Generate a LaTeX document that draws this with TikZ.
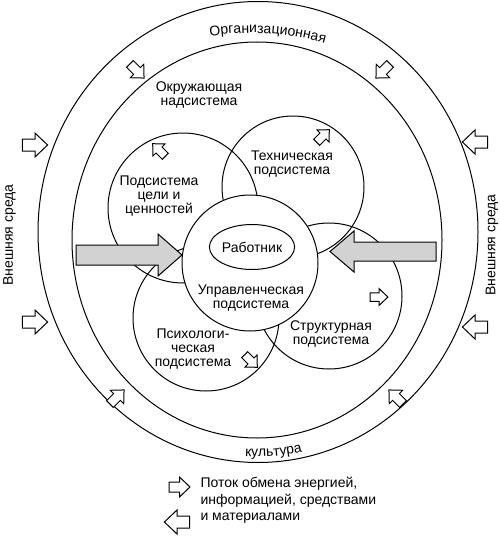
\documentclass[tikz,border=0pt]{standalone}
\usepackage{fontspec}
\setmainfont{Liberation Sans}
\usetikzlibrary{decorations.text,shapes.geometric}
\newcommand\lblfont{\fontsize{14}{14.2}\selectfont}
\newcommand\legfont{\fontsize{14}{16.5}\selectfont}
\begin{document}
\begin{tikzpicture}[x=1pt,y=-1pt,line width=1pt,
  lbl/.style={font=\lblfont,align=center,inner sep=0pt},
  ring/.style={draw,ellipse,inner sep=0pt,line width=1pt},
  sub/.style={draw,circle,inner sep=0pt,line width=1pt},
  bigarrow/.style={draw,fill=gray!35,line width=1pt,line join=miter},
  harrow/.pic={\draw[fill=white,line width=1pt,line join=miter]
     (-10.5pt,-5pt)--(0pt,-5pt)--(0pt,-10pt)--(10.5pt,0pt)--(0pt,10pt)--(0pt,5pt)--(-10.5pt,5pt)--cycle;}]
\useasboundingbox (0,0) rectangle (500,543);
% rings
\node[ring,minimum width=440,minimum height=461] (outer) at (258,232) {};
\node[ring,minimum width=370,minimum height=396] (inner) at (257,240) {};
% ring texts
\path[decorate,decoration={text along path,text align=center,text={|\lblfont|Организационная}}]
  (175.7,44.1) arc[start angle=-106.6,end angle=-66.6,radius=267];
\path[decorate,decoration={text along path,text align=center,text={|\lblfont|культура}}]
  (216.5,453.2) arc[start angle=100.6,end angle=70.6,radius=220];
% subsystem circles
\node[sub,minimum size=150] (goal) at (183,208) {};
\node[sub,minimum size=142] (tech) at (293,187) {};
\node[sub,minimum size=146] (psy) at (206,318) {};
\node[sub,minimum size=146] (str) at (329,296) {};
\node[sub,fill=white,minimum size=136] (upr) at (250,263) {};
\node[draw,ellipse,minimum width=80,minimum height=45,inner sep=0pt,font=\lblfont] (work) at (252,247) {Работник};
% labels
\node[lbl] (okrt) at (199,95) {Окружающая\\надсистема};
\node[lbl] (goalt) at (159,196) {Подсистема\\цели и\\ценностей};
\node[lbl] (techt) at (292,164) {Техническая\\подсистема};
\node[lbl] (uprt) at (251,298) {Управленческая\\подсистема};
\node[lbl] (psyt) at (193,349) {Психологи-\\ческая\\подсистема};
\node[lbl] (strt) at (331,334) {Структурная\\подсистема};
\node[lbl,rotate=90] (envl) at (9.5,235) {Внешняя среда};
\node[lbl,rotate=90] (envr) at (492,245) {Внешняя среда};
% big arrows
\draw[bigarrow] (76,245)--(158,245)--(158,234)--(182,255)--(158,276)--(158,265)--(76,265)--cycle;
\draw[bigarrow] (436,242)--(354,242)--(354,231)--(330,251.5)--(354,272)--(354,261)--(436,261)--cycle;
% small exchange arrows
\pic[rotate=-45,scale=0.95] at (137,71) {harrow};
\pic[rotate=-135,scale=0.95] at (383,71) {harrow};
\pic[scale=1.2] at (35,145) {harrow};
\pic[scale=1.2] at (35,322) {harrow};
\pic[rotate=180,scale=1.2] at (475,142) {harrow};
\pic[rotate=180,scale=1.2] at (475,327) {harrow};
\pic[rotate=45,scale=0.95] at (117,397) {harrow};
\pic[rotate=135,scale=0.95] at (396,397) {harrow};
\pic[rotate=135,scale=0.85] at (159,150) {harrow};
\pic[rotate=45,scale=0.85] at (323,136) {harrow};
\pic[scale=0.85] at (379,297) {harrow};
\pic[rotate=-45,scale=0.85] at (251,361) {harrow};
% legend
\pic at (179.5,487) {harrow};
\pic[rotate=180,scale=1.2] at (177,522) {harrow};
\node[font=\legfont,align=left,anchor=north west,inner sep=0pt] (leg) at (200,477) {Поток обмена энергией,\\информацией, средствами\\и материалами};
\end{tikzpicture}
\end{document}
